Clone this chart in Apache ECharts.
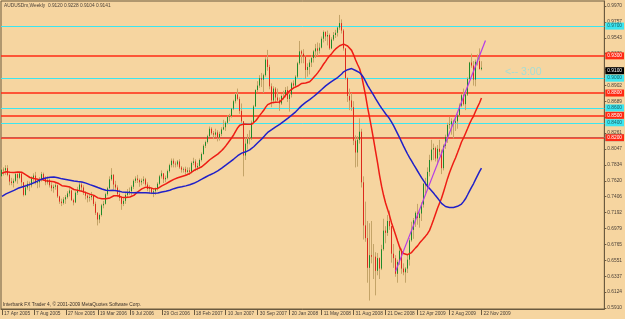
<!DOCTYPE html>
<html>
<head>
<meta charset="utf-8">
<script src="https://cdn.jsdelivr.net/npm/echarts@6/dist/echarts.min.js"></script>
<style>
html, body { margin: 0; padding: 0; background: #f6d5a0; }
#chart { width: 625px; height: 319px; }
</style>
</head>
<body>
<div id="chart"></div>
<script>
// AUDUSDm weekly, first bar = week of 17 Apr 2005
const slotCount = 302;
const firstOpen = 0.7680;

// closes before the first visible bar (only used by the moving averages)
const priorCloses = [
  0.7190, 0.7250, 0.6960, 0.6990, 0.7080, 0.7040, 0.7100, 0.6930, 0.6990, 0.6980,
  0.7150, 0.7270, 0.7150, 0.7010, 0.7110, 0.7100, 0.7140, 0.7090, 0.7010, 0.6970,
  0.7020, 0.7060, 0.7230, 0.7260, 0.7300, 0.7390, 0.7450, 0.7520, 0.7680, 0.7700,
  0.7770, 0.7690, 0.7590, 0.7560, 0.7670, 0.7800, 0.7660, 0.7600, 0.7630, 0.7640,
  0.7690, 0.7680, 0.7800, 0.7880, 0.7880, 0.7940, 0.7870, 0.7740, 0.7720, 0.7650,
  0.7680
];

const closes = [
  0.7770, 0.7760, 0.7790, 0.7700, 0.7610, 0.7590, 0.7620, 0.7710, 0.7660, 0.7720,
  0.7600, 0.7430, 0.7530, 0.7580, 0.7560, 0.7650, 0.7690, 0.7590, 0.7600, 0.7630,
  0.7710, 0.7650, 0.7600, 0.7630, 0.7560, 0.7520, 0.7540, 0.7560, 0.7410, 0.7340,
  0.7320, 0.7370, 0.7400, 0.7450, 0.7490, 0.7360, 0.7330, 0.7460, 0.7500, 0.7570,
  0.7530, 0.7460, 0.7420, 0.7390, 0.7400, 0.7420, 0.7310, 0.7190, 0.7100, 0.7160,
  0.7290, 0.7310, 0.7440, 0.7520, 0.7640, 0.7700, 0.7570, 0.7530, 0.7440, 0.7390,
  0.7310, 0.7350, 0.7430, 0.7460, 0.7480, 0.7540, 0.7620, 0.7650, 0.7630, 0.7600,
  0.7620, 0.7640, 0.7570, 0.7510, 0.7520, 0.7460, 0.7480, 0.7510, 0.7580, 0.7680,
  0.7720, 0.7640, 0.7660, 0.7750, 0.7830, 0.7890, 0.7850, 0.7840, 0.7880, 0.7800,
  0.7770, 0.7780, 0.7740, 0.7760, 0.7740, 0.7860, 0.7880, 0.7800, 0.7820, 0.7900,
  0.7980, 0.8090, 0.8140, 0.8220, 0.8320, 0.8260, 0.8240, 0.8270, 0.8200, 0.8250,
  0.8310, 0.8340, 0.8400, 0.8480, 0.8490, 0.8590, 0.8690, 0.8780, 0.8720, 0.8560,
  0.8420, 0.7960, 0.8120, 0.8180, 0.8190, 0.8400, 0.8620, 0.8840, 0.8900, 0.9000,
  0.8980, 0.9040, 0.9250, 0.9150, 0.8890, 0.8700, 0.8860, 0.8740, 0.8700, 0.8660,
  0.8760, 0.8760, 0.8840, 0.8720, 0.8780, 0.8930, 0.8900, 0.9020, 0.9200, 0.9360,
  0.9330, 0.9290, 0.9110, 0.9150, 0.9210, 0.9270, 0.9360, 0.9400, 0.9370, 0.9410,
  0.9530, 0.9620, 0.9560, 0.9580, 0.9400, 0.9520, 0.9580, 0.9610, 0.9680, 0.9740,
  0.9640, 0.9400, 0.9000, 0.8760, 0.8700, 0.8610, 0.8160, 0.8000, 0.8170, 0.8280,
  0.7600, 0.7020, 0.6850, 0.6450, 0.6620, 0.6600, 0.6600, 0.6410, 0.6580, 0.6440,
  0.6700, 0.6950, 0.6920, 0.7080, 0.7010, 0.6640, 0.6580, 0.6370, 0.6530, 0.6680,
  0.6440, 0.6390, 0.6440, 0.6560, 0.6820, 0.6960, 0.7090, 0.7190, 0.7120, 0.7180,
  0.7300, 0.7580, 0.7560, 0.7740, 0.7900, 0.8040, 0.8060, 0.7920, 0.8050, 0.8010,
  0.7790, 0.8090, 0.8210, 0.8370, 0.8380, 0.8420, 0.8400, 0.8420, 0.8500, 0.8630,
  0.8770, 0.8650, 0.8780, 0.8990, 0.9210, 0.9170, 0.8980, 0.9220, 0.9230, 0.9120,
  0.9141
];

const highs = [
  0.7800, 0.7800, 0.7830, 0.7830, 0.7720, 0.7660, 0.7650, 0.7730, 0.7720, 0.7740,
  0.7710, 0.7600, 0.7570, 0.7620, 0.7610, 0.7680, 0.7720, 0.7740, 0.7640, 0.7670,
  0.7740, 0.7730, 0.7680, 0.7680, 0.7650, 0.7600, 0.7570, 0.7600, 0.7570, 0.7420,
  0.7380, 0.7400, 0.7430, 0.7480, 0.7530, 0.7500, 0.7380, 0.7480, 0.7540, 0.7600,
  0.7600, 0.7560, 0.7480, 0.7440, 0.7440, 0.7470, 0.7430, 0.7340, 0.7200, 0.7180,
  0.7310, 0.7350, 0.7460, 0.7540, 0.7680, 0.7790, 0.7710, 0.7620, 0.7560, 0.7500,
  0.7400, 0.7400, 0.7460, 0.7510, 0.7530, 0.7560, 0.7640, 0.7680, 0.7700, 0.7650,
  0.7650, 0.7680, 0.7660, 0.7600, 0.7560, 0.7530, 0.7510, 0.7530, 0.7600, 0.7700,
  0.7760, 0.7720, 0.7690, 0.7770, 0.7850, 0.7920, 0.7920, 0.7880, 0.7900, 0.7910,
  0.7820, 0.7800, 0.7810, 0.7800, 0.7800, 0.7880, 0.7930, 0.7910, 0.7860, 0.7920,
  0.8000, 0.8110, 0.8160, 0.8240, 0.8350, 0.8340, 0.8290, 0.8320, 0.8300, 0.8280,
  0.8340, 0.8440, 0.8420, 0.8500, 0.8520, 0.8600, 0.8710, 0.8800, 0.8860, 0.8750,
  0.8660, 0.8420, 0.8200, 0.8250, 0.8300, 0.8430, 0.8640, 0.8850, 0.8960, 0.9040,
  0.9070, 0.9060, 0.9280, 0.9380, 0.9180, 0.8930, 0.8890, 0.8880, 0.8860, 0.8740,
  0.8780, 0.8830, 0.8880, 0.8890, 0.8800, 0.8950, 0.8970, 0.9040, 0.9220, 0.9500,
  0.9380, 0.9390, 0.9310, 0.9200, 0.9250, 0.9310, 0.9380, 0.9460, 0.9480, 0.9470,
  0.9560, 0.9640, 0.9630, 0.9640, 0.9600, 0.9550, 0.9620, 0.9650, 0.9690, 0.9850,
  0.9790, 0.9660, 0.9400, 0.9010, 0.8860, 0.8800, 0.8690, 0.8230, 0.8220, 0.8460,
  0.8320, 0.7680, 0.7340, 0.7080, 0.7050, 0.7080, 0.6770, 0.6660, 0.6650, 0.6590,
  0.6760, 0.7110, 0.7010, 0.7160, 0.7220, 0.7010, 0.6770, 0.6620, 0.6560, 0.6740,
  0.6710, 0.6510, 0.6460, 0.6630, 0.6850, 0.7070, 0.7120, 0.7210, 0.7310, 0.7210,
  0.7330, 0.7590, 0.7660, 0.7800, 0.7970, 0.8170, 0.8120, 0.8080, 0.8100, 0.8170,
  0.8040, 0.8110, 0.8240, 0.8400, 0.8480, 0.8460, 0.8440, 0.8470, 0.8520, 0.8660,
  0.8790, 0.8860, 0.8830, 0.9010, 0.9220, 0.9330, 0.9230, 0.9250, 0.9320, 0.9400,
  0.9228
];

const lows = [
  0.7650, 0.7690, 0.7700, 0.7680, 0.7560, 0.7560, 0.7530, 0.7600, 0.7580, 0.7640,
  0.7550, 0.7410, 0.7420, 0.7500, 0.7480, 0.7530, 0.7600, 0.7570, 0.7520, 0.7530,
  0.7610, 0.7620, 0.7560, 0.7570, 0.7530, 0.7480, 0.7460, 0.7500, 0.7390, 0.7310,
  0.7280, 0.7300, 0.7310, 0.7380, 0.7410, 0.7350, 0.7290, 0.7320, 0.7430, 0.7480,
  0.7480, 0.7430, 0.7370, 0.7330, 0.7340, 0.7360, 0.7280, 0.7160, 0.7020, 0.7050,
  0.7140, 0.7250, 0.7300, 0.7420, 0.7510, 0.7620, 0.7510, 0.7480, 0.7400, 0.7350,
  0.7230, 0.7280, 0.7310, 0.7400, 0.7430, 0.7420, 0.7510, 0.7590, 0.7590, 0.7540,
  0.7560, 0.7580, 0.7550, 0.7480, 0.7450, 0.7440, 0.7400, 0.7430, 0.7490, 0.7560,
  0.7650, 0.7590, 0.7600, 0.7640, 0.7730, 0.7800, 0.7800, 0.7800, 0.7810, 0.7780,
  0.7730, 0.7730, 0.7700, 0.7720, 0.7700, 0.7720, 0.7830, 0.7750, 0.7760, 0.7780,
  0.7880, 0.7970, 0.8060, 0.8120, 0.8210, 0.8240, 0.8180, 0.8210, 0.8150, 0.8160,
  0.8220, 0.8300, 0.8290, 0.8380, 0.8420, 0.8470, 0.8570, 0.8660, 0.8700, 0.8520,
  0.8390, 0.7680, 0.7900, 0.8040, 0.8110, 0.8170, 0.8380, 0.8610, 0.8810, 0.8870,
  0.8880, 0.8800, 0.9020, 0.9100, 0.8850, 0.8610, 0.8660, 0.8680, 0.8690, 0.8560,
  0.8640, 0.8710, 0.8740, 0.8680, 0.8550, 0.8740, 0.8860, 0.8880, 0.9000, 0.9180,
  0.9200, 0.9200, 0.8990, 0.9020, 0.9050, 0.9150, 0.9210, 0.9270, 0.9300, 0.9330,
  0.9400, 0.9480, 0.9500, 0.9440, 0.9380, 0.9390, 0.9500, 0.9540, 0.9560, 0.9650,
  0.9600, 0.9370, 0.8980, 0.8680, 0.8570, 0.8560, 0.8100, 0.7800, 0.7810, 0.8120,
  0.7530, 0.6830, 0.6800, 0.6250, 0.6010, 0.6510, 0.6300, 0.6080, 0.6350, 0.6300,
  0.6420, 0.6680, 0.6780, 0.6880, 0.6960, 0.6520, 0.6450, 0.6330, 0.6250, 0.6490,
  0.6370, 0.6350, 0.6250, 0.6380, 0.6480, 0.6800, 0.6840, 0.7000, 0.7030, 0.6990,
  0.7080, 0.7260, 0.7450, 0.7500, 0.7680, 0.7880, 0.7900, 0.7880, 0.7840, 0.7960,
  0.7710, 0.7760, 0.8050, 0.8130, 0.8320, 0.8240, 0.8190, 0.8290, 0.8320, 0.8480,
  0.8610, 0.8630, 0.8570, 0.8760, 0.8980, 0.9140, 0.8900, 0.8890, 0.9170, 0.9120,
  0.9104
];

const priceTicks = [
  0.5910, 0.6124, 0.6337, 0.6551, 0.6765, 0.6979, 0.7192, 0.7406, 0.7620, 0.7834,
  0.8047, 0.8261, 0.8475, 0.8689, 0.8902, 0.9116, 0.9330, 0.9543, 0.9757, 0.9970
];

const redLevels = [0.9298, 0.8814, 0.8518, 0.8182];
const cyanLevels = [0.9715, 0.8975, 0.8612, 0.8357, 0.8155];
const lastPrice = 0.9141;
const trendLine = [[197, 0.6402], [242, 0.9507]];
const fastPeriod = 20;
const slowPeriod = 50;

const months = ['Jan', 'Feb', 'Mar', 'Apr', 'May', 'Jun', 'Jul', 'Aug', 'Sep', 'Oct', 'Nov', 'Dec'];
const categories = [];
for (let i = 0; i < slotCount; i++) {
  if (i < closes.length) {
    const d = new Date(Date.UTC(2005, 3, 17 + 7 * i));
    categories.push(d.getUTCDate() + ' ' + months[d.getUTCMonth()] + ' ' + d.getUTCFullYear());
  } else {
    categories.push('');
  }
}

// echarts candle order: open, close, low, high
const opens = closes.map((c, i) => (i === 0 ? firstOpen : closes[i - 1]));
const candles = closes.map((c, i) => [opens[i], c, lows[i], highs[i]]);
// bodies only, drawn over the tan wicks
const bodies = closes.map((c, i) => [opens[i], c, Math.min(opens[i], c), Math.max(opens[i], c)]);

const sma = (n) => {
  const all = priorCloses.concat(closes);
  const off = priorCloses.length;
  return closes.map((_, i) => {
    let s = 0;
    for (let k = 0; k < n; k++) s += all[off + i - k];
    return +(s / n).toFixed(5);
  });
};

const font = 'Liberation Sans, Arial, sans-serif';
const frame = '#6b5a3f';
const wick = '#c4a468';
const showDate = (i, v) => i % 16 === 0 && v !== '';

const levelItem = (v, line, bg, fg, w) => ({
  yAxis: v,
  lineStyle: { color: line, width: w, type: 'solid' },
  label: { backgroundColor: bg, color: fg }
});

const myChart = echarts.init(document.getElementById('chart'));
const option = {
  animation: false,
  backgroundColor: '#f6d5a0',
  grid: {
    left: 1, top: 1, right: 19, bottom: 10,
    show: true, backgroundColor: '#f6d5a0', borderColor: frame, borderWidth: 1
  },
  xAxis: {
    type: 'category',
    data: categories,
    boundaryGap: true,
    axisLine: { show: true, lineStyle: { color: frame, width: 1 } },
    axisTick: { show: true, alignWithLabel: true, interval: showDate, length: 6, lineStyle: { color: frame } },
    axisLabel: {
      interval: showDate, align: 'left', fontSize: 4.8, fontFamily: font,
      color: '#4a4038', margin: 2, padding: [0, 0, 0, 2]
    },
    splitLine: { show: false }
  },
  yAxis: {
    type: 'value',
    position: 'right',
    min: 0.58966,
    max: 1.00372,
    axisLine: { show: true, lineStyle: { color: frame, width: 1 } },
    axisTick: { show: true, customValues: priceTicks, length: 2, lineStyle: { color: frame } },
    axisLabel: {
      customValues: priceTicks, formatter: (v) => v.toFixed(4),
      fontSize: 4.8, fontFamily: font, color: '#4a4038', margin: 3
    },
    splitLine: { show: false }
  },
  graphic: [
    { type: 'text', left: 4, top: 3, style: { text: 'AUDUSDm,Weekly  0.9120 0.9228 0.9104 0.9141', font: '4.8px ' + font, fill: '#4a4038' } },
    { type: 'text', left: 3, top: 302, style: { text: 'Interbank FX Trader 4, \u00a9 2001-2009 MetaQuotes Software Corp.', font: '4.8px ' + font, fill: '#3a3028' } },
    { type: 'text', left: 505, top: 67, style: { text: '<-- 3:00', font: '10.5px ' + font, fill: '#a6ddd4' } }
  ],
  series: [
    {
      type: 'candlestick',
      data: candles,
      barWidth: 0.5,
      itemStyle: { color: wick, color0: wick, borderColor: wick, borderColor0: wick, borderWidth: 1 },
      markLine: {
        silent: true,
        symbol: ['none', 'none'],
        z: 1,
        label: {
          position: 'end', distance: 1, fontSize: 4.8, fontFamily: font,
          padding: [1, 2], formatter: (p) => p.value.toFixed(4)
        },
        data: [
          ...cyanLevels.map((v) => levelItem(v, '#3ce6f0', '#3ce6f0', '#1c5a60', 1)),
          ...redLevels.map((v) => levelItem(v, '#ff2a14', '#ff2a14', '#ffffff', 1.5)),
          levelItem(lastPrice, 'transparent', '#000000', '#ffffff', 0)
        ]
      }
    },
    {
      type: 'candlestick',
      data: bodies,
      barWidth: 1,
      itemStyle: {
        color: '#1f8a2a', color0: '#dc2a1c',
        borderColor: '#1f8a2a', borderColor0: '#dc2a1c', borderWidth: 1
      }
    },
    {
      type: 'line', data: sma(fastPeriod), symbol: 'none',
      lineStyle: { color: '#ee1c14', width: 1.5 }
    },
    {
      type: 'line', data: sma(slowPeriod), symbol: 'none',
      lineStyle: { color: '#2020c8', width: 1.5 }
    },
    {
      type: 'line', data: trendLine, symbol: 'none',
      lineStyle: { color: '#b43ce6', width: 1.2 }
    }
  ]
};
myChart.setOption(option);
window.addEventListener('resize', () => myChart.resize());
</script>
</body>
</html>
